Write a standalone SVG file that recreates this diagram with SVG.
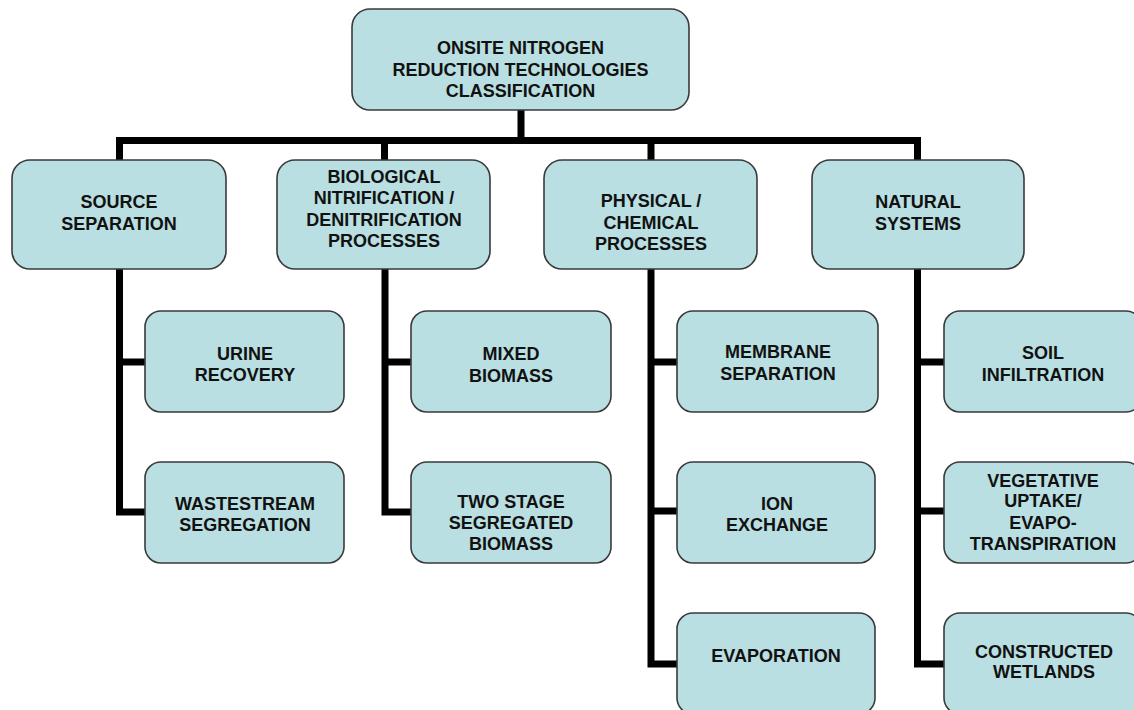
<svg xmlns="http://www.w3.org/2000/svg" width="1134" height="710" viewBox="0 0 1134 710">
<style>
.box{fill:#B9DFE2;stroke:#3a3a3a;stroke-width:1.6}
.t{font-family:"Liberation Sans",Arial,sans-serif;font-weight:bold;font-size:18px;fill:#111;text-anchor:middle}
.c{fill:none;stroke:#000;stroke-width:7;stroke-linejoin:miter;stroke-linecap:butt}
</style>
<rect width="1134" height="710" fill="#fff"/>
<g id="connectors">
<path class="c" d="M521 110 V140.5"/>
<path class="c" d="M119.5 160 V140.5 H917.5 V160"/>
<path class="c" d="M384.5 140.5 V160"/>
<path class="c" d="M651 140.5 V160"/>
<path class="c" d="M119.5 269 V512 H145 M119.5 362 H145"/>
<path class="c" d="M385 269 V512 H411 M385 362 H411"/>
<path class="c" d="M651 269 V664 H677 M651 362 H677 M651 511 H677"/>
<path class="c" d="M917.5 269 V664 H944 M917.5 362 H944 M917.5 511 H944"/>
</g>
<g id="root">
<rect class="box" x="352" y="9" width="337" height="101" rx="18"/>
<text class="t" x="520.5" y="54">ONSITE NITROGEN</text>
<text class="t" x="520.5" y="76">REDUCTION TECHNOLOGIES</text>
<text class="t" x="520.5" y="97">CLASSIFICATION</text>
</g>
<g id="source">
<rect class="box" x="12" y="160" width="214" height="109" rx="18"/>
<text class="t" x="119" y="208">SOURCE</text>
<text class="t" x="119" y="230">SEPARATION</text>
</g>
<g id="bio">
<rect class="box" x="277" y="160" width="213" height="109" rx="18"/>
<text class="t" x="384" y="183">BIOLOGICAL</text>
<text class="t" x="384" y="204">NITRIFICATION /</text>
<text class="t" x="384" y="226">DENITRIFICATION</text>
<text class="t" x="384" y="247">PROCESSES</text>
</g>
<g id="physical">
<rect class="box" x="544" y="160" width="213" height="109" rx="18"/>
<text class="t" x="651" y="207">PHYSICAL /</text>
<text class="t" x="651" y="229">CHEMICAL</text>
<text class="t" x="651" y="250">PROCESSES</text>
</g>
<g id="natural">
<rect class="box" x="812" y="160" width="212" height="109" rx="18"/>
<text class="t" x="918" y="208">NATURAL</text>
<text class="t" x="918" y="230">SYSTEMS</text>
</g>
<g id="urine">
<rect class="box" x="145" y="311" width="199" height="101" rx="16"/>
<text class="t" x="245" y="360">URINE</text>
<text class="t" x="245" y="381">RECOVERY</text>
</g>
<g id="wastestream">
<rect class="box" x="145" y="462" width="199" height="101" rx="16"/>
<text class="t" x="245" y="510">WASTESTREAM</text>
<text class="t" x="245" y="531">SEGREGATION</text>
</g>
<g id="mixed">
<rect class="box" x="411" y="311" width="200" height="101" rx="16"/>
<text class="t" x="511" y="360">MIXED</text>
<text class="t" x="511" y="382">BIOMASS</text>
</g>
<g id="twostage">
<rect class="box" x="411" y="462" width="200" height="101" rx="16"/>
<text class="t" x="511" y="508">TWO STAGE</text>
<text class="t" x="511" y="529">SEGREGATED</text>
<text class="t" x="511" y="550">BIOMASS</text>
</g>
<g id="membrane">
<rect class="box" x="677" y="311" width="201" height="101" rx="16"/>
<text class="t" x="778" y="358">MEMBRANE</text>
<text class="t" x="778" y="380">SEPARATION</text>
</g>
<g id="ion">
<rect class="box" x="677" y="462" width="198" height="101" rx="16"/>
<text class="t" x="777" y="510">ION</text>
<text class="t" x="777" y="531">EXCHANGE</text>
</g>
<g id="evaporation">
<rect class="box" x="677" y="613" width="198" height="101" rx="16"/>
<text class="t" x="776" y="662">EVAPORATION</text>
</g>
<g id="soil">
<rect class="box" x="944" y="311" width="198" height="101" rx="16"/>
<text class="t" x="1043" y="359">SOIL</text>
<text class="t" x="1043" y="381">INFILTRATION</text>
</g>
<g id="vegetative">
<rect class="box" x="944" y="462" width="198" height="101" rx="16"/>
<text class="t" x="1043" y="487">VEGETATIVE</text>
<text class="t" x="1043" y="507">UPTAKE/</text>
<text class="t" x="1043" y="529">EVAPO-</text>
<text class="t" x="1043" y="550">TRANSPIRATION</text>
</g>
<g id="constructed">
<rect class="box" x="944" y="613" width="198" height="101" rx="16"/>
<text class="t" x="1044" y="658">CONSTRUCTED</text>
<text class="t" x="1044" y="678">WETLANDS</text>
</g>
</svg>
